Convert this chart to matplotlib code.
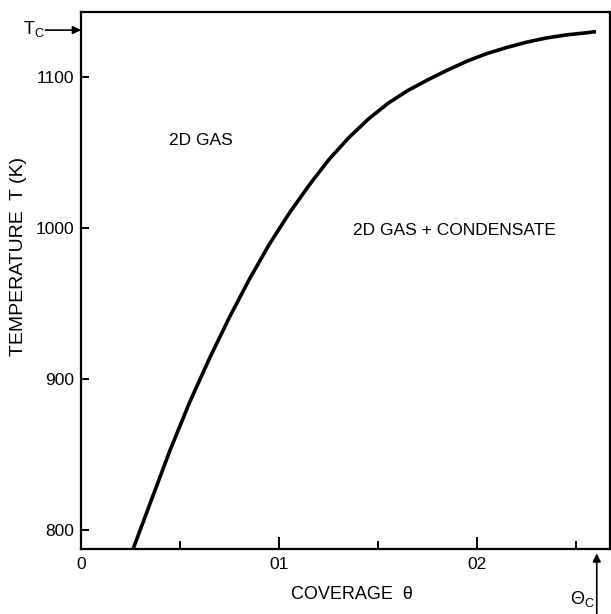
import matplotlib
matplotlib.use("Agg")
import matplotlib.pyplot as plt
from matplotlib.ticker import FixedLocator

plt.rcParams['font.family'] = ['Liberation Sans', 'DejaVu Sans']
plt.rcParams['mathtext.fontset'] = 'custom'
plt.rcParams['mathtext.rm'] = 'Liberation Sans'
plt.rcParams['mathtext.default'] = 'regular'

# phase boundary
coverage = [0.0263, 0.035, 0.045, 0.055, 0.065, 0.075, 0.085, 0.095, 0.105,
            0.115, 0.125, 0.135, 0.145, 0.155, 0.165, 0.175, 0.185, 0.195,
            0.205, 0.215, 0.225, 0.235, 0.245, 0.255, 0.260]
temperature = [787.4, 818, 853, 885, 914, 941, 966, 989, 1009.5,
               1028, 1045, 1059.5, 1072, 1082.5, 1091, 1098, 1104.5, 1110.5,
               1115.5, 1119.5, 1123, 1125.8, 1127.8, 1129.2, 1130]

theta_c = 0.2604
t_c = 1131

xticks = [0, 0.1, 0.2]
xticklabels = ['0', '01', '02']
xminor = [0.05, 0.15, 0.25]
yticks = [800, 900, 1000, 1100]

fig = plt.figure(figsize=(6.11, 6.14), dpi=100)
ax = fig.add_axes([0.1326, 0.1059, 0.8655, 0.8746])

ax.plot(coverage, temperature, color='black', lw=2.6, solid_capstyle='butt')

ax.set_xlim(0, 0.267)
ax.set_ylim(787.4, 1143)
ax.set_xticks(xticks)
ax.set_xticklabels(xticklabels)
ax.xaxis.set_minor_locator(FixedLocator(xminor))
ax.set_yticks(yticks)

ax.tick_params(axis='x', which='major', direction='in', length=9, width=1.4,
               labelsize=12.5, pad=6)
ax.tick_params(axis='x', which='minor', direction='in', length=5.5, width=1.4)
ax.tick_params(axis='y', which='major', direction='in', length=6, width=1.4,
               labelsize=12.5, pad=5)
for s in ax.spines.values():
    s.set_linewidth(1.6)

ax.text(0.0445, 1058, '2D GAS', fontsize=12.5, va='center')
ax.text(0.1374, 998, '2D GAS + CONDENSATE', fontsize=12.5, va='center')

fig.text(0.03, 0.583, 'TEMPERATURE  T (K)', rotation=90, fontsize=14,
         ha='center', va='center')
fig.text(0.576, 0.031, 'COVERAGE  θ', fontsize=13, ha='center', va='center')

# critical temperature marker
ax.annotate('', xy=(0, t_c), xytext=(-0.018, t_c),
            arrowprops=dict(arrowstyle='-|>', color='black', lw=1.2,
                            mutation_scale=12, shrinkA=0, shrinkB=0),
            annotation_clip=False)
fig.text(0.055, 0.952, 'T$_C$', fontsize=13, ha='center', va='center')

# critical coverage marker
ax.annotate('', xy=(theta_c, 784.5), xycoords='data',
            xytext=(theta_c, 0), textcoords=('data', 'figure fraction'),
            arrowprops=dict(arrowstyle='-|>', color='black', lw=1.2,
                            mutation_scale=12, shrinkA=0, shrinkB=0),
            annotation_clip=False)
fig.text(0.953, 0.025, 'Θ$_C$', fontsize=13, ha='center', va='center')

fig.savefig('out.png', dpi=100)
